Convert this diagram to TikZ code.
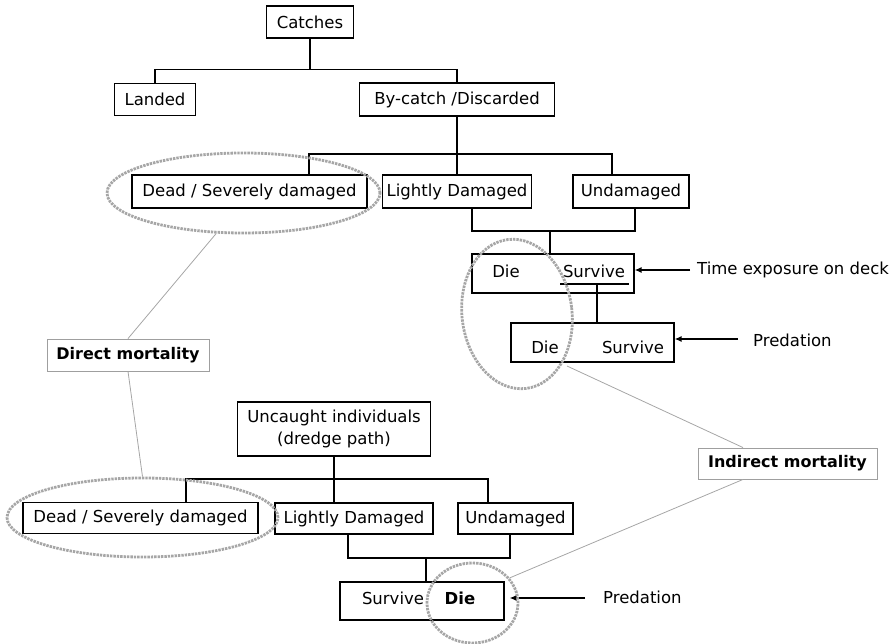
\documentclass[tikz,border=0pt]{standalone}
\usepackage{fontspec}
\setmainfont{DejaVu Sans}
\usetikzlibrary{arrows.meta,shapes.geometric}
\begin{document}
\begin{tikzpicture}[x=1pt,y=-1pt,
  txt/.style={font=\fontsize{16.5}{22}\selectfont},
  box/.style={txt, draw, line width=1.2pt, inner sep=0pt, minimum height=33pt, align=center},
  gbox/.style={box, draw=gray!75, line width=0.9pt, font=\bfseries\fontsize{16}{22}\selectfont},
  conn/.style={line width=1.3pt},
  glink/.style={draw=gray!70, line width=0.8pt},
  ell/.style={ellipse, draw=gray!70, line width=2.8pt, dash pattern=on 2.4pt off 1pt, inner sep=0pt},
  lbl/.style={txt, anchor=west, inner sep=0pt},
  arr/.style={line width=1.4pt, -{Latex[length=7pt,width=6pt]}}]
\useasboundingbox (0,0) rectangle (895,644);

% top tree
\node[box, minimum width=87pt, minimum height=32pt] (catch) at (310,22) {Catches};
\node[box, minimum width=81pt, minimum height=32pt] (landed) at (155,99.5) {Landed};
\node[box, minimum width=195pt] (bycatch) at (457,99.5) {By-catch /Discarded};
\node[box, minimum width=235pt] (dead1) at (249.5,191.5) {Dead / Severely damaged};
\node[box, minimum width=149pt] (light1) at (457,191.5) {Lightly Damaged};
\node[box, minimum width=116pt] (undam1) at (631,191.5) {Undamaged};
\node[box, minimum width=162pt, minimum height=39pt] (ds1) at (553,273.5) {};
\node[txt, inner sep=0pt] (die1) at (506,271) {Die};
\node[txt, inner sep=0pt] (surv1) at (594,271) {Survive};
\node[box, minimum width=163pt, minimum height=39pt] (ds2) at (592.5,342.5) {};
\node[txt, inner sep=0pt] (die2) at (545,347) {Die};
\node[txt, inner sep=0pt] (surv2) at (633,347) {Survive};
\node[lbl] (time) at (697,270) {Time exposure on deck};
\node[lbl] (pred1) at (753,340) {Predation};

% mortality labels
\node[gbox, minimum width=162pt, minimum height=32pt] (direct) at (128,355) {Direct mortality};
\node[gbox, minimum width=179pt, minimum height=31pt] (indirect) at (787.5,463.5) {Indirect mortality};

% bottom tree
\node[box, minimum width=193pt, minimum height=54pt] (uncaught) at (334,429) {Uncaught individuals\\(dredge path)};
\node[box, minimum width=235pt, minimum height=31pt] (dead2) at (140.5,518) {Dead / Severely damaged};
\node[box, minimum width=158pt, minimum height=31pt] (light2) at (354,518.5) {Lightly Damaged};
\node[box, minimum width=115pt, minimum height=31pt] (undam2) at (515.5,518.5) {Undamaged};
\node[box, minimum width=164pt, minimum height=38pt] (sd) at (422,601) {};
\node[txt, inner sep=0pt] (surv3) at (393,598) {Survive};
\node[txt, inner sep=0pt, font=\bfseries\fontsize{16.5}{22}\selectfont] (die3) at (460,598) {Die};
\node[lbl] (pred2) at (603,597) {Predation};

% connectors top
\draw[conn] (catch.south) -- ++(0,31) coordinate (j1);
\draw[conn] (landed.north) |- (j1) -| (bycatch.north);
\draw[conn] (bycatch.south) -- (light1.north);
\coordinate (j2) at (457,154);
\draw[conn] ([xshift=59.5pt]dead1.north) |- (j2) -| ([xshift=-19pt]undam1.north);
\coordinate (j3) at (550,231);
\draw[conn] ([xshift=15pt]light1.south) |- (j3) -| ([xshift=4pt]undam1.south);
\draw[conn] (j3) -- (j3 |- ds1.north);
\coordinate (u1) at (560,284);
\coordinate (u2) at (629,284);
\coordinate (u3) at (597,284);
\draw[conn] (u1) -- (u2);
\draw[conn] (u3) -- (u3 |- ds2.north);
\coordinate (a1) at (690,270);
\draw[arr] (a1) -- (a1 -| ds1.east);
\coordinate (a2) at (738,339);
\draw[arr] (a2) -- (a2 -| ds2.east);

% connectors bottom
\coordinate (j4) at (334,479);
\draw[conn] (uncaught.south) -- (uncaught.south |- light2.north);
\draw[conn] ([xshift=45.5pt]dead2.north) |- (j4) -| ([xshift=-27.5pt]undam2.north);
\coordinate (j5) at (426,558);
\draw[conn] ([xshift=-6pt]light2.south) |- (j5) -| ([xshift=-5.5pt]undam2.south);
\draw[conn] (j5) -- (j5 |- sd.north);
\coordinate (a3) at (585,598);
\draw[arr, shorten >=5pt] (a3) -- (a3 -| sd.east);

% ellipses
\node[ell, minimum width=273pt, minimum height=80pt] (e1) at (243.5,193) {};
\node[ell, minimum width=110pt, minimum height=150pt, rotate=7] (e2) at (517,314) {};
\node[ell, minimum width=271pt, minimum height=79pt] (e3) at (142.5,517.5) {};
\node[ell, minimum width=91pt, minimum height=80pt] (e4) at (472.5,603) {};

% gray links
\coordinate (e2p) at (567,366);
\draw[glink] (e1.236) -- (direct.north);
\draw[glink] (direct.south) -- (e3.north);
\draw[glink] (e2p) -- ([xshift=-44.5pt]indirect.north);
\draw[glink] ([xshift=-44.5pt]indirect.south) -- (e4.34);
\end{tikzpicture}
\end{document}
